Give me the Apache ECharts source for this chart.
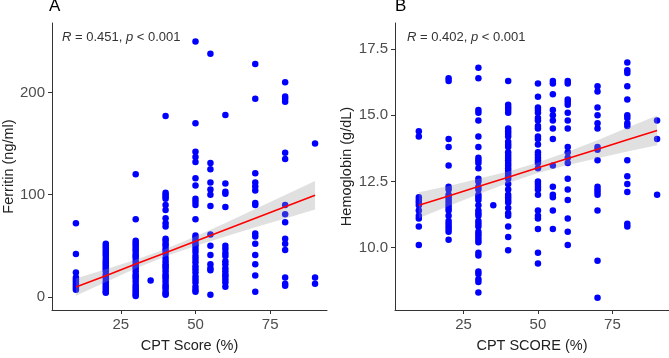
<!DOCTYPE html>
<html>
<head>
<meta charset="utf-8">
<script src="https://cdn.jsdelivr.net/npm/echarts@6/dist/echarts.min.js"></script>
<style>
html,body{margin:0;padding:0;background:#fff}
#chart{width:669px;height:358px}
</style>
</head>
<body>
<div id="chart"></div>
<script>
// CPT score groups (x), shared by both panels
const cptGroups = [10, 20, 30, 35, 40, 50, 55, 60, 70, 80, 90];

// panel A: ferritin (ng/ml) per CPT group
const ferritin = [
  [72, 42, 24, 19, 17, 15, 13, 11, 9, 7],
  [52, 50, 48, 46, 44, 42, 40, 37, 35, 33, 31, 29, 27, 25, 22, 20, 18, 15, 13, 11, 9, 7, 5, 4],
  [120, 76, 55, 53, 51, 49, 47, 45, 42, 40, 38, 35, 32, 30, 28, 25, 22, 20, 18, 15, 12, 10, 8, 6, 4, 2, 1],
  [16],
  [177, 102, 100, 98, 96, 90, 85, 77, 72, 69, 57, 55, 52, 50, 47, 45, 42, 38, 35, 32, 30, 28, 25, 22, 20, 18, 15, 12, 10, 8, 5, 3, 2],
  [250, 170, 142, 137, 132, 116, 109, 96, 93, 90, 76, 60, 58, 55, 52, 50, 47, 44, 40, 37, 34, 30, 27, 24, 20, 17, 14, 10, 7, 5],
  [238, 131, 125, 112, 105, 100, 89, 61, 50, 41, 32, 28, 26, 2],
  [178, 111, 103, 101, 88, 50, 47, 43, 40, 35, 32, 28, 25, 22, 20, 17, 14, 10],
  [228, 194, 121, 112, 108, 104, 92, 90, 62, 59, 52, 41, 32, 21, 5],
  [210, 196, 194, 191, 141, 135, 90, 81, 73, 57, 52, 46, 19, 13, 11],
  [150, 19, 13]
];

// panel B: hemoglobin (g/dL) per CPT group
const hemoglobin = [
  [14.4, 14.2, 11.9, 11.8, 11.7, 11.6, 11.4, 11.2, 11.1, 10.8, 10.1],
  [16.4, 16.3, 14.1, 13.8, 13.1, 12.3, 12.2, 12.0, 11.9, 11.8, 11.7, 11.6, 11.5, 11.4, 11.2, 11.0, 10.9, 10.8, 10.7, 10.6, 10.3],
  [16.8, 16.4, 15.2, 15.1, 14.8, 14.2, 13.8, 13.4, 13.3, 13.2, 13.0, 12.6, 12.5, 12.3, 12.2, 12.0, 11.9, 11.8, 11.6, 11.4, 11.3, 11.2, 11.0, 10.9, 10.8, 10.6, 10.5, 10.4, 10.3, 10.2, 9.8, 9.7, 9.1, 9.0, 8.8, 8.7, 8.3],
  [11.6],
  [16.3, 15.4, 15.3, 15.2, 15.1, 14.5, 14.4, 14.3, 14.2, 14.0, 13.9, 13.8, 13.6, 13.5, 13.4, 13.3, 13.2, 13.1, 13.0, 12.9, 12.8, 12.7, 12.6, 12.4, 12.2, 12.0, 11.9, 11.8, 11.7, 11.5, 11.3, 11.2, 10.8, 10.4, 9.9],
  [16.2, 15.7, 15.3, 15.2, 15.1, 14.9, 14.8, 14.6, 14.5, 14.2, 14.1, 13.9, 13.6, 13.5, 13.4, 13.3, 13.2, 13.0, 12.5, 12.4, 12.3, 12.2, 12.0, 11.4, 11.2, 11.1, 10.7, 9.8, 9.4],
  [16.3, 16.2, 15.8, 15.2, 15.0, 14.8, 14.5, 14.1, 13.1, 12.3, 12.0, 11.9, 11.4, 10.7],
  [16.3, 16.2, 15.6, 15.5, 15.4, 15.1, 14.8, 14.5, 13.8, 13.6, 13.4, 13.2, 12.6, 12.2, 11.8, 11.1, 10.6, 10.1],
  [16.1, 15.9, 15.3, 15.0, 14.7, 14.5, 13.8, 13.7, 13.3, 12.3, 12.2, 12.1, 12.0, 11.4, 9.5, 8.1],
  [17.0, 16.7, 16.6, 16.1, 15.6, 15.0, 14.9, 14.7, 14.6, 13.3, 12.7, 12.4, 12.1, 10.9, 10.8],
  [14.8, 14.1, 12.0]
];

// linear fits with 95% band
const fitX = [10, 20, 30, 40, 50, 60, 70, 80, 90];
const ferritinFit = [9.6, 20.8, 32.1, 43.3, 54.5, 65.8, 77.0, 88.2, 99.5];
const ferritinLow = [1.1, 14.6, 27.8, 39.8, 49.9, 59.2, 68.1, 76.8, 85.5];
const ferritinHigh = [18.1, 27.0, 36.4, 46.8, 59.1, 72.4, 85.9, 99.6, 113.5];
const hbFit = [11.60, 11.95, 12.31, 12.66, 13.02, 13.37, 13.72, 14.08, 14.43];
const hbLow = [11.11, 11.57, 12.02, 12.44, 12.82, 13.12, 13.38, 13.63, 13.87];
const hbHigh = [12.09, 12.33, 12.60, 12.88, 13.22, 13.62, 14.06, 14.53, 14.99];

const xTicks = [25, 50, 75];
const ferritinTicks = [0, 100, 200];
const hbTicks = [10, 12.5, 15, 17.5];

const FONT = '"Liberation Sans", Arial, sans-serif';

function points(groups, vals) {
  let out = [];
  groups.forEach((x, i) => vals[i].forEach(v => out.push([x, v])));
  return out;
}

function xAxisOf(idx, name) {
  return {
    type: 'value', gridIndex: idx, min: 2, max: 94,
    name: name, nameLocation: 'middle', nameGap: 28,
    nameTextStyle: {fontSize: 14.5, color: '#222', fontFamily: FONT},
    axisLine: {show: true, onZero: false, lineStyle: {color: '#333', width: 1}},
    axisTick: {show: true, length: 4, customValues: xTicks, lineStyle: {color: '#333'}},
    axisLabel: {customValues: xTicks, margin: 7, fontSize: 15, color: '#4d4d4d', fontFamily: FONT},
    splitLine: {show: false}
  };
}

function yAxisOf(idx, min, max, ticks, name, gap, fmt) {
  return {
    type: 'value', gridIndex: idx, min: min, max: max,
    name: name, nameLocation: 'middle', nameGap: gap,
    nameTextStyle: {fontSize: 14.5, color: '#222', fontFamily: FONT},
    axisLine: {show: true, onZero: false, lineStyle: {color: '#333', width: 1}},
    axisTick: {show: true, length: 4, customValues: ticks, lineStyle: {color: '#333'}},
    axisLabel: {customValues: ticks, margin: 7, fontSize: 15, color: '#4d4d4d', fontFamily: FONT, formatter: fmt},
    splitLine: {show: false}
  };
}

function band(idx, low, high) {
  return {
    type: 'custom', xAxisIndex: idx, yAxisIndex: idx, z: 3, silent: true,
    data: [[fitX[0], low[0]]],
    renderItem: function (params, api) {
      let pts = [];
      fitX.forEach((x, i) => pts.push(api.coord([x, high[i]])));
      for (let i = fitX.length - 1; i >= 0; i--) pts.push(api.coord([fitX[i], low[i]]));
      return {type: 'polygon', shape: {points: pts}, style: {fill: 'rgba(153,153,153,0.3)'}};
    }
  };
}

function fitLine(idx, fit) {
  return {
    type: 'line', xAxisIndex: idx, yAxisIndex: idx, z: 4, silent: true,
    data: fitX.map((x, i) => [x, fit[i]]),
    showSymbol: false, smooth: false,
    lineStyle: {color: '#ff0000', width: 1.6}
  };
}

function scatter(idx, vals) {
  return {
    type: 'scatter', xAxisIndex: idx, yAxisIndex: idx, z: 2,
    data: points(cptGroups, vals),
    symbolSize: 6.5,
    itemStyle: {color: '#0000ff', opacity: 1}
  };
}

function label(left, txt) {
  return {
    text: txt, left: left, top: 31, padding: 0,
    textStyle: {fontSize: 13, fontWeight: 'normal', color: '#333', fontFamily: FONT,
      rich: {i: {fontSize: 13, fontStyle: 'italic', color: '#333', fontFamily: FONT}}}
  };
}

const chart = echarts.init(document.getElementById('chart'), null, {renderer: 'canvas'});
chart.setOption({
  animation: false,
  backgroundColor: '#fff',
  title: [
    {text: 'A', left: 49, top: -2, padding: 0, textStyle: {fontSize: 17, fontWeight: 'normal', color: '#000', fontFamily: FONT}},
    {text: 'B', left: 395, top: -2, padding: 0, textStyle: {fontSize: 17, fontWeight: 'normal', color: '#000', fontFamily: FONT}},
    label(62, '{i|R} = 0.451, {i|p} < 0.001'),
    label(407, '{i|R} = 0.402, {i|p} < 0.001')
  ],
  grid: [
    {left: 50, top: 23, width: 277, height: 294},
    {left: 395, top: 23, width: 274, height: 294}
  ],
  xAxis: [xAxisOf(0, 'CPT Score (%)'), xAxisOf(1, 'CPT SCORE (%)')],
  yAxis: [
    yAxisOf(0, -12.8, 268, ferritinTicks, 'Ferritin (ng/ml)', 36, v => String(v)),
    yAxisOf(1, 7.64, 18.49, hbTicks, 'Hemoglobin (g/dL)', 39, v => v.toFixed(1))
  ],
  series: [
    scatter(0, ferritin), band(0, ferritinLow, ferritinHigh), fitLine(0, ferritinFit),
    scatter(1, hemoglobin), band(1, hbLow, hbHigh), fitLine(1, hbFit)
  ]
});
</script>
</body>
</html>
